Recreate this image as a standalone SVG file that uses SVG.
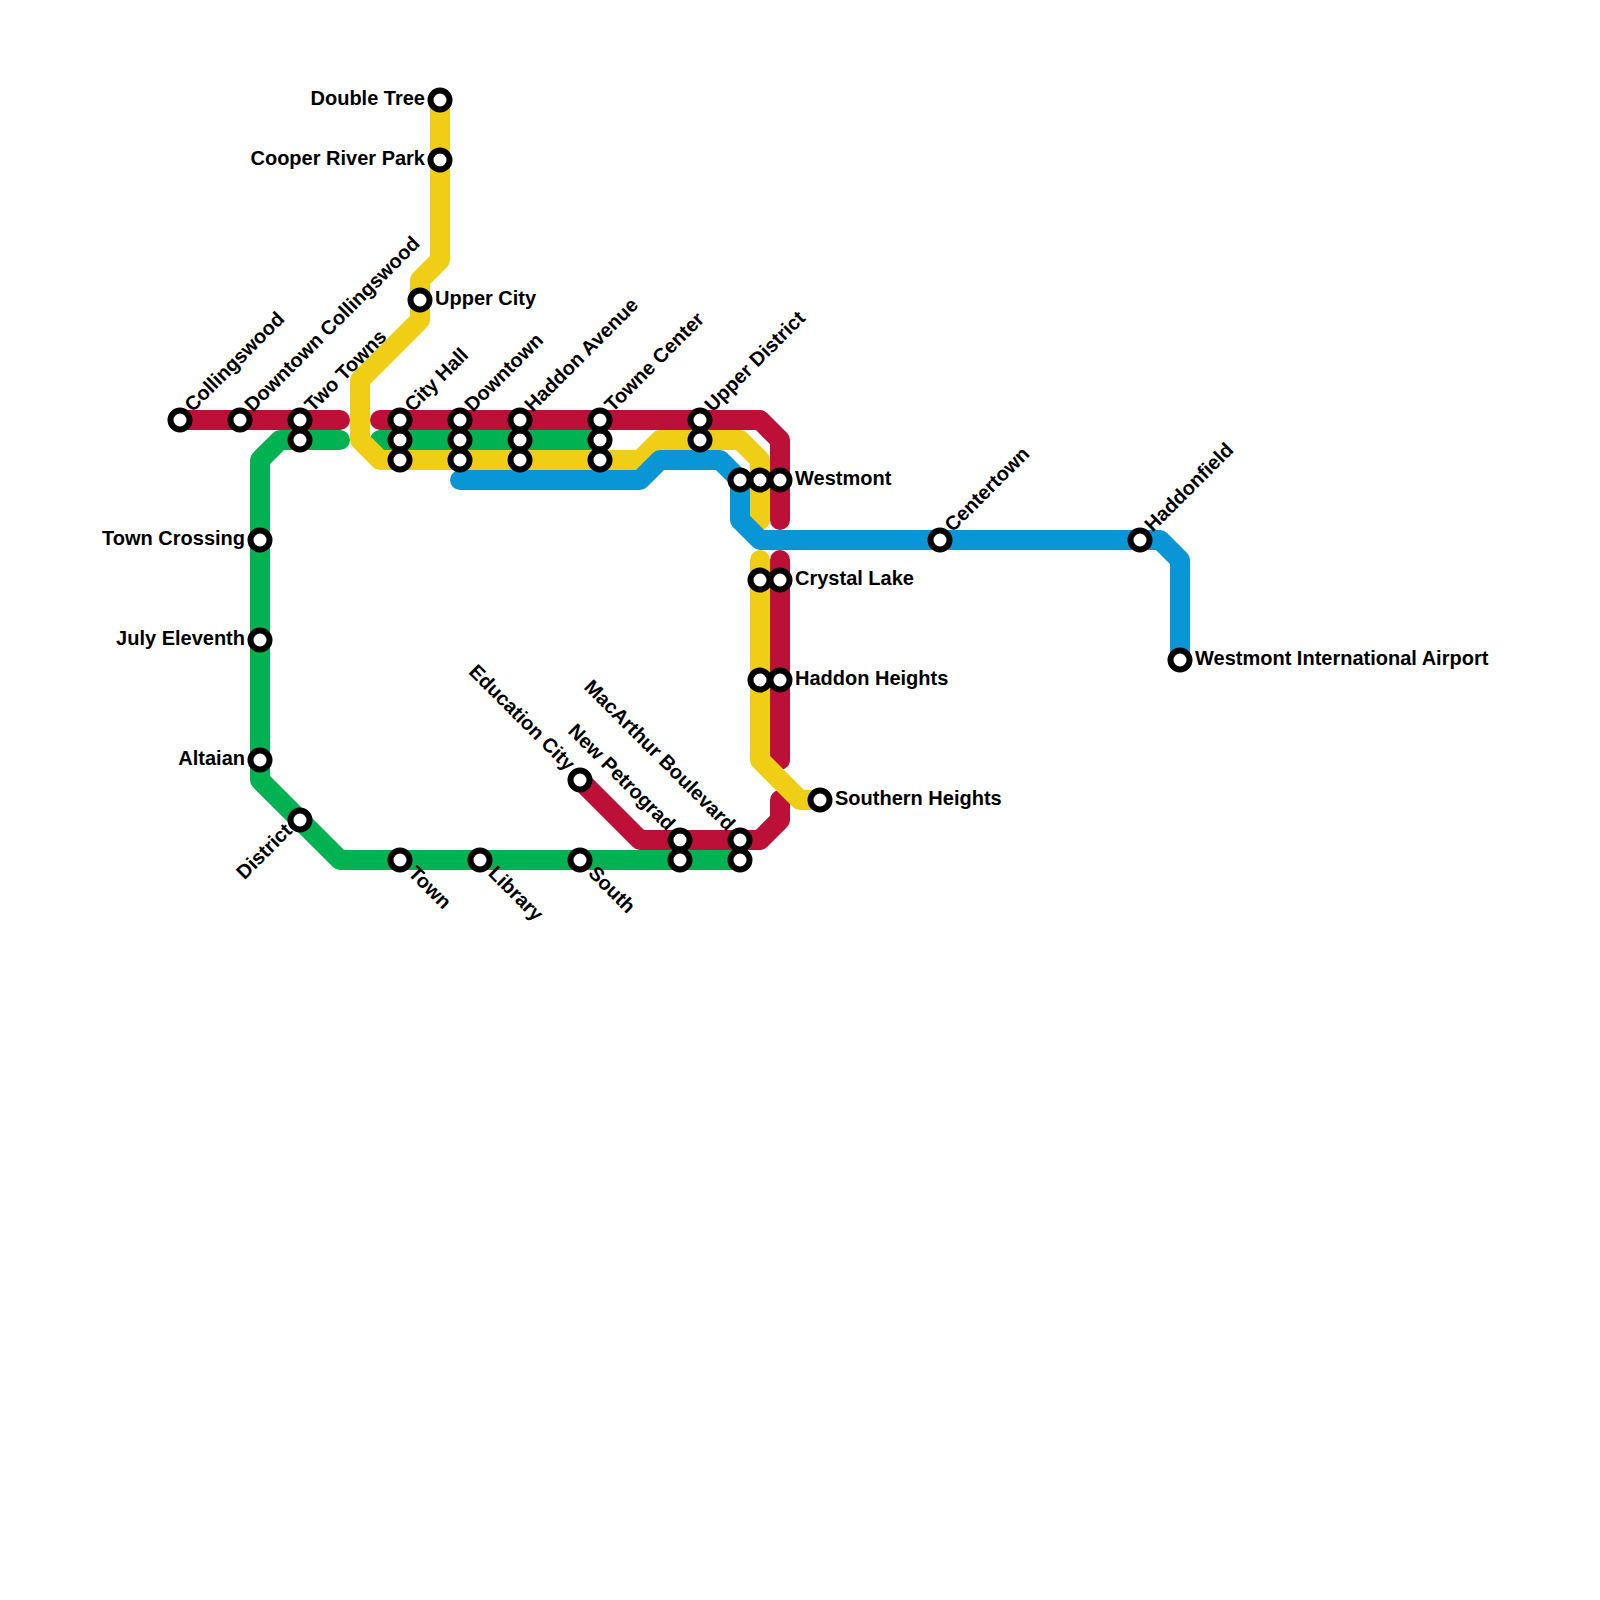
<svg xmlns="http://www.w3.org/2000/svg" width="1600" height="1600" viewBox="0 0 1600 1600">
<style>
text{font-family:"Liberation Sans",Arial,sans-serif;font-weight:700;font-size:20px;fill:#000}
.e{text-anchor:end}
.l{fill:none;stroke-width:20;stroke-linecap:round;stroke-linejoin:round}
.r{stroke:#bd1038}.g{stroke:#00b251}.y{stroke:#f0ce15}.b{stroke:#0896d7}
circle{fill:#fff;stroke:#000;stroke-width:6}
</style>
<rect width="1600" height="1600" fill="#fff"/>
<g id="connectors">
<path class="l r" d="M180 420H340"/>
<path class="l r" d="M380 420H760L780 440V520"/>
<path class="l r" d="M780 560V760"/>
<path class="l r" d="M580 780L640 840H760L780 820V800"/>
<path class="l g" d="M340 440H280L260 460V780L340 860H740"/>
<path class="l g" d="M380 440H600"/>
<path class="l y" d="M440 100V260L420 280V320L360 380V440L380 460H640L660 440H740L760 460V520"/>
<path class="l y" d="M760 560V760L800 800H820"/>
<path class="l b" d="M460 480H640L660 460H720L740 480V520L760 540H1160L1180 560V660"/>
</g>
<g id="n1"><circle cx="180" cy="420" r="9.5"/><text transform="translate(190 410) rotate(-45)" y="4">Collingswood</text></g>
<g id="n2"><circle cx="240" cy="420" r="9.5"/><text transform="translate(250 410) rotate(-45)" y="4">Downtown Collingswood</text></g>
<g id="n3"><circle cx="300" cy="420" r="9.5"/><circle cx="300" cy="440" r="9.5"/><text transform="translate(310 410) rotate(-45)" y="4">Two Towns</text></g>
<g id="n4"><circle cx="400" cy="420" r="9.5"/><circle cx="400" cy="440" r="9.5"/><circle cx="400" cy="460" r="9.5"/><text transform="translate(410 410) rotate(-45)" y="4">City Hall</text></g>
<g id="n5"><circle cx="460" cy="420" r="9.5"/><circle cx="460" cy="440" r="9.5"/><circle cx="460" cy="460" r="9.5"/><text transform="translate(470 410) rotate(-45)" y="4">Downtown</text></g>
<g id="n6"><circle cx="520" cy="420" r="9.5"/><circle cx="520" cy="440" r="9.5"/><circle cx="520" cy="460" r="9.5"/><text transform="translate(530 410) rotate(-45)" y="4">Haddon Avenue</text></g>
<g id="n7"><circle cx="600" cy="420" r="9.5"/><circle cx="600" cy="440" r="9.5"/><circle cx="600" cy="460" r="9.5"/><text transform="translate(610 410) rotate(-45)" y="4">Towne Center</text></g>
<g id="n8"><circle cx="700" cy="420" r="9.5"/><circle cx="700" cy="440" r="9.5"/><text transform="translate(710 410) rotate(-45)" y="4">Upper District</text></g>
<g id="n9"><circle cx="440" cy="100" r="9.5"/><text class="e" x="425" y="105">Double Tree</text></g>
<g id="n10"><circle cx="440" cy="160" r="9.5"/><text class="e" x="425" y="165">Cooper River Park</text></g>
<g id="n11"><circle cx="420" cy="300" r="9.5"/><text x="435" y="305">Upper City</text></g>
<g id="n12"><circle cx="740" cy="480" r="9.5"/><circle cx="760" cy="480" r="9.5"/><circle cx="780" cy="480" r="9.5"/><text x="795" y="485">Westmont</text></g>
<g id="n13"><circle cx="760" cy="580" r="9.5"/><circle cx="780" cy="580" r="9.5"/><text x="795" y="585">Crystal Lake</text></g>
<g id="n14"><circle cx="760" cy="680" r="9.5"/><circle cx="780" cy="680" r="9.5"/><text x="795" y="685">Haddon Heights</text></g>
<g id="n15"><circle cx="820" cy="800" r="9.5"/><text x="835" y="805">Southern Heights</text></g>
<g id="n16"><circle cx="940" cy="540" r="9.5"/><text transform="translate(950 530) rotate(-45)" y="4">Centertown</text></g>
<g id="n17"><circle cx="1140" cy="540" r="9.5"/><text transform="translate(1150 530) rotate(-45)" y="4">Haddonfield</text></g>
<g id="n18"><circle cx="1180" cy="660" r="9.5"/><text x="1195" y="665">Westmont International Airport</text></g>
<g id="n19"><circle cx="260" cy="540" r="9.5"/><text class="e" x="245" y="545">Town Crossing</text></g>
<g id="n20"><circle cx="260" cy="640" r="9.5"/><text class="e" x="245" y="645">July Eleventh</text></g>
<g id="n21"><circle cx="260" cy="760" r="9.5"/><text class="e" x="245" y="765">Altaian</text></g>
<g id="n22"><circle cx="300" cy="820" r="9.5"/><text class="e" transform="translate(290 830) rotate(-45)" x="1" y="3.5">District</text></g>
<g id="n23"><circle cx="400" cy="860" r="9.5"/><text transform="translate(410 870) rotate(45)" x="1" y="5">Town</text></g>
<g id="n24"><circle cx="480" cy="860" r="9.5"/><text transform="translate(490 870) rotate(45)" x="1" y="5">Library</text></g>
<g id="n25"><circle cx="580" cy="860" r="9.5"/><text transform="translate(590 870) rotate(45)" x="1" y="5">South</text></g>
<g id="n26"><circle cx="580" cy="780" r="9.5"/><text class="e" transform="translate(570 770) rotate(45)" x="-1" y="3.5">Education City</text></g>
<g id="n27"><circle cx="680" cy="840" r="9.5"/><circle cx="680" cy="860" r="9.5"/><text class="e" transform="translate(670 830) rotate(45)" x="-1" y="3.5">New Petrograd</text></g>
<g id="n28"><circle cx="740" cy="840" r="9.5"/><circle cx="740" cy="860" r="9.5"/><text class="e" transform="translate(730 830) rotate(45)" x="-1" y="3.5">MacArthur Boulevard</text></g>
</svg>
